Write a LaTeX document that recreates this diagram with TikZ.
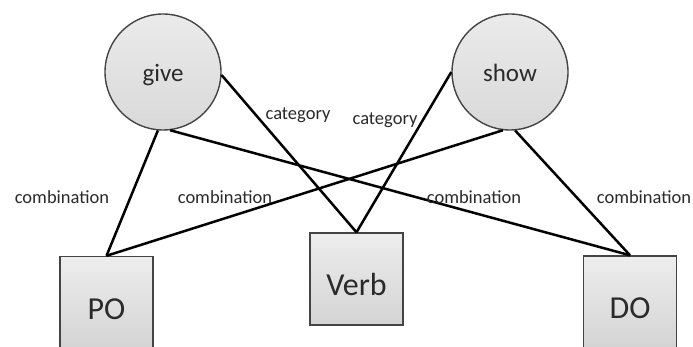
\documentclass[tikz,border=0pt]{standalone}
\usepackage{fontspec}
\setmainfont{Carlito}
\definecolor{txt}{HTML}{2A2A2A}
\definecolor{edge}{HTML}{444444}
\begin{document}
\begin{tikzpicture}[x=1pt,y=-1pt,
  wordnode/.style={circle,draw=edge,line width=1.4pt,top color=gray!16,bottom color=gray!30,
    minimum size=116pt,inner sep=0pt,text=txt,text height=25pt,text depth=5pt,
    font=\fontsize{25}{28}\selectfont},
  catbox/.style={rectangle,draw=edge,line width=1.4pt,top color=gray!14,bottom color=gray!34,
    minimum width=93pt,minimum height=92pt,inner sep=0pt,text=txt,text height=33pt,text depth=0pt,
    font=\fontsize{32}{36}\selectfont},
  lbl/.style={text=txt,inner sep=0pt,font=\fontsize{18.5}{20}\selectfont},
  link/.style={line width=2.5pt,black}]
\useasboundingbox (0,0) rectangle (693,347);
\fill[white] (0,0) rectangle (693,347);
\node[wordnode] (give) at (163,72) {give};
\node[wordnode] (show) at (510,72) {show};
\node[catbox] (po) at (106.5,302.5) {PO};
\node[catbox] (verb) at (356.5,279) {Verb};
\node[catbox] (do) at (630,302) {DO};
\draw[link] (give.-95) -- (po.north);
\draw[link] (give.-83) -- (do.north);
\draw[link] (give.-3) -- (verb.north);
\draw[link] (show.west) -- (verb.north);
\draw[link] (show.-97) -- (po.north);
\draw[link] (show.-85) -- (do.north);
\node[lbl] (c1) at (298,115) {category};
\node[lbl] (c2) at (385,120) {category};
\node[lbl] (m1) at (62,197) {combination};
\node[lbl] (m2) at (225,197) {combination};
\node[lbl] (m3) at (474,197) {combination};
\node[lbl] (m4) at (644,197) {combination};
\end{tikzpicture}
\end{document}
